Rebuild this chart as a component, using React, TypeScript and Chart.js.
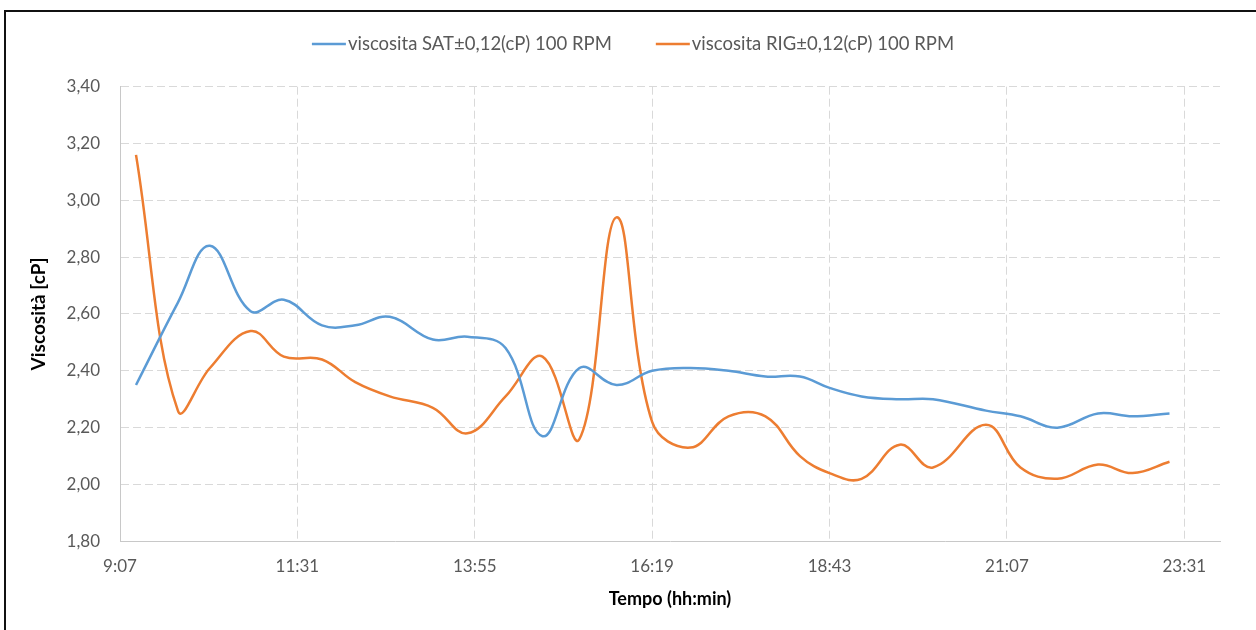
import React, { useEffect, useRef } from "react";
import { Chart, registerables } from "chart.js";

Chart.register(...registerables);

// ---- data ----
const times = [
  "9:20", "9:54", "10:20", "10:53", "11:20", "11:51", "12:18", "12:46", "13:21", "13:49",
  "14:20", "14:50", "15:20", "15:50", "16:19", "16:50", "17:21", "17:51", "18:19", "18:43",
  "19:09", "19:40", "20:07", "20:50", "21:18", "21:48", "22:21", "22:49", "23:19",
];
const satValues = [
  2.35, 2.64, 2.84, 2.61, 2.65, 2.56, 2.56, 2.59, 2.51, 2.52,
  2.48, 2.17, 2.41, 2.35, 2.40, 2.41, 2.40, 2.38, 2.38, 2.34,
  2.31, 2.30, 2.30, 2.26, 2.24, 2.20, 2.25, 2.24, 2.25,
];
const rigValues = [
  3.16, 2.26, 2.41, 2.54, 2.45, 2.44, 2.36, 2.31, 2.27, 2.18,
  2.31, 2.45, 2.16, 2.94, 2.22, 2.13, 2.24, 2.24, 2.10, 2.04,
  2.02, 2.14, 2.06, 2.21, 2.06, 2.02, 2.07, 2.04, 2.08,
];
const seriesLabels = ["viscosita SAT±0,12(cP) 100 RPM", "viscosita RIG±0,12(cP) 100 RPM"];
const seriesColors = ["#5B9BD5", "#ED7D31"];
const xTickLabels = ["9:07", "11:31", "13:55", "16:19", "18:43", "21:07", "23:31"];
const xAxisMin = "9:07";
const xAxisMax = "24:00";
const yTickValues = [1.8, 2.0, 2.2, 2.4, 2.6, 2.8, 3.0, 3.2, 3.4];
const xAxisTitle = "Tempo (hh:min)";
const yAxisTitle = "Viscosità [cP]";

const toMin = (s: string) => {
  const [h, m] = s.split(":").map(Number);
  return h * 60 + m;
};
const fmtMin = (v: number) => {
  const h = Math.floor(v / 60);
  const m = Math.round(v - h * 60);
  return `${h}:${m < 10 ? "0" + m : m}`;
};

const FONT = "Lato, 'Open Sans', sans-serif";

const excelLegend = {
  id: "excelLegend",
  afterDraw(chart: any) {
    const ctx = chart.ctx as CanvasRenderingContext2D;
    ctx.save();
    ctx.font = `18.5px ${FONT}`;
    const lineLen = 34;
    const gapText = 2;
    const gapItems = 44;
    const items = chart.data.datasets.map((ds: any) => ({
      label: ds.label as string,
      color: ds.borderColor as string,
      w: ctx.measureText(ds.label).width,
    }));
    let total = 0;
    items.forEach((it: any, i: number) => {
      total += lineLen + gapText + it.w + (i > 0 ? gapItems : 0);
    });
    let x = 633 - total / 2;
    const y = 44;
    items.forEach((it: any) => {
      ctx.strokeStyle = it.color;
      ctx.lineWidth = 2.5;
      ctx.beginPath();
      ctx.moveTo(x, y);
      ctx.lineTo(x + lineLen, y);
      ctx.stroke();
      ctx.fillStyle = "#595959";
      ctx.textBaseline = "middle";
      ctx.textAlign = "left";
      ctx.fillText(it.label, x + lineLen + gapText, y);
      x += lineLen + gapText + it.w + gapItems;
    });
    ctx.restore();
  },
};

export default function App() {
  const ref = useRef<HTMLCanvasElement>(null);

  useEffect(() => {
    if (!ref.current) return;
    const xs = times.map(toMin);
    const chart = new Chart(ref.current, {
      type: "line",
      data: {
        datasets: [
          {
            label: seriesLabels[0],
            data: xs.map((x, i) => ({ x, y: satValues[i] })),
            borderColor: seriesColors[0],
            backgroundColor: seriesColors[0],
            borderWidth: 2.5,
            pointRadius: 0,
            tension: 0.4,
            fill: false,
          },
          {
            label: seriesLabels[1],
            data: xs.map((x, i) => ({ x, y: rigValues[i] })),
            borderColor: seriesColors[1],
            backgroundColor: seriesColors[1],
            borderWidth: 2.5,
            pointRadius: 0,
            tension: 0.4,
            fill: false,
          },
        ],
      },
      options: {
        animation: false,
        responsive: false,
        maintainAspectRatio: false,
        layout: { padding: { top: 86.7, left: 0, right: 36, bottom: 0 } },
        plugins: {
          legend: { display: false },
          tooltip: { enabled: false },
        },
        scales: {
          x: {
            type: "linear",
            min: toMin(xAxisMin),
            max: toMin(xAxisMax),
            afterBuildTicks: (scale: any) => {
              scale.ticks = xTickLabels.map((l) => ({ value: toMin(l) }));
            },
            afterFit: (scale: any) => {
              scale.height = 630 - 541.3;
            },
            ticks: {
              autoSkip: false,
              maxRotation: 0,
              padding: 15,
              color: "#595959",
              font: { family: FONT, size: 17 },
              callback: (v: any) => fmtMin(Number(v)),
            },
            grid: {
              color: "#D9D9D9",
              lineWidth: 1,
              drawTicks: false,
            },
            border: { display: true, color: "#C8C8C8", width: 1, dash: [8, 4] },
            title: {
              display: true,
              text: xAxisTitle,
              color: "#000000",
              font: { family: FONT, size: 18, weight: "bold" },
              padding: { top: 0, bottom: 20 },
            },
          },
          y: {
            type: "linear",
            min: 1.8,
            max: 3.4,
            afterBuildTicks: (scale: any) => {
              scale.ticks = yTickValues.map((v) => ({ value: v }));
            },
            afterFit: (scale: any) => {
              scale.width = 120;
            },
            ticks: {
              padding: 20,
              color: "#595959",
              font: { family: FONT, size: 17 },
              callback: (v: any) => Number(v).toFixed(2).replace(".", ","),
            },
            grid: {
              color: "#D9D9D9",
              lineWidth: 1,
              drawTicks: false,
            },
            border: { display: true, color: "#C8C8C8", width: 1, dash: [8, 4] },
            title: {
              display: true,
              text: yAxisTitle,
              color: "#000000",
              font: { family: FONT, size: 19, weight: "bold" },
              padding: { top: 27, bottom: 0 },
            },
          },
        },
      },
      plugins: [excelLegend],
    } as any);
    return () => chart.destroy();
  }, []);

  return (
    <div style={{ position: "absolute", left: 0, top: 0, width: 1256, height: 630, background: "#fff", overflow: "hidden" }}>
      <canvas ref={ref} width={1256} height={630} style={{ position: "absolute", left: 0, top: 0, width: 1256, height: 630 }} />
      <div
        style={{
          position: "absolute",
          left: 4,
          top: 10,
          width: 1300,
          height: 700,
          borderLeft: "2px solid #111",
          borderTop: "2px solid #111",
          pointerEvents: "none",
        }}
      />
    </div>
  );
}
